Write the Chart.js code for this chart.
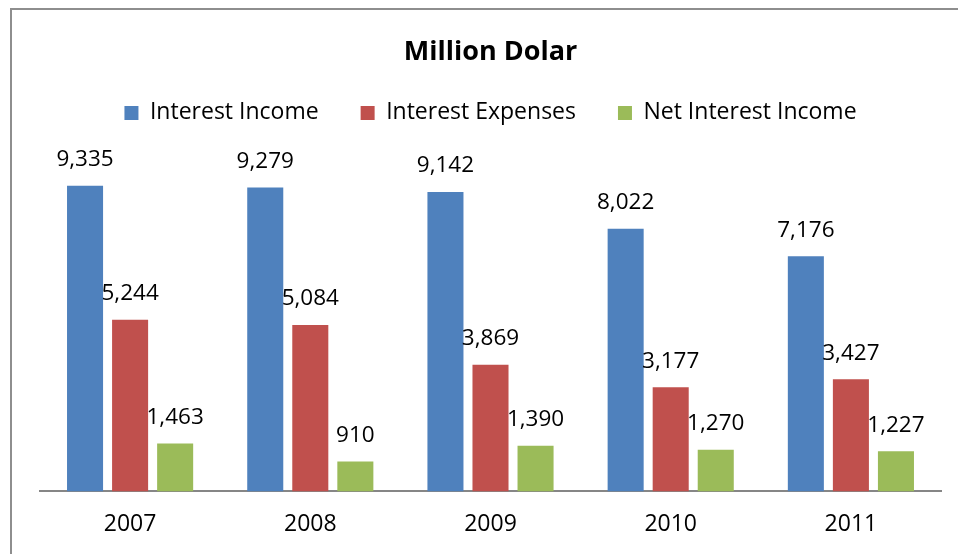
<!DOCTYPE html>
<html><head><meta charset="utf-8">
<script src="https://cdn.jsdelivr.net/npm/chart.js@4/dist/chart.umd.min.js"></script>
<style>
html,body{margin:0;padding:0;background:#fff;overflow:hidden;}
#wrap{position:absolute;left:0;top:0;width:958px;height:554px;}
#frame{position:absolute;left:10px;top:8px;width:1000px;height:600px;border:2px solid #8e8e8e;box-sizing:border-box;}
canvas{position:absolute;left:0;top:0;}
</style></head>
<body>
<div id="wrap"><div id="frame"></div><canvas id="c" width="958" height="554"></canvas></div>
<script>
const categories = ['2007','2008','2009','2010','2011'];
const interestIncome = [9335, 9279, 9142, 8022, 7176];
const interestExpenses = [5244, 5084, 3869, 3177, 3427];
const netInterestIncome = [1463, 910, 1390, 1270, 1227];
const titleText = 'Million Dolar';
const FONT = "'Open Sans', sans-serif";

const labelPlugin = {
  id: 'barLabels',
  afterDatasetsDraw(chart) {
    const ctx = chart.ctx;
    ctx.save();
    ctx.font = "22.5px " + FONT;
    ctx.fillStyle = '#000';
    ctx.textAlign = 'center';
    ctx.textBaseline = 'middle';
    chart.data.datasets.forEach((ds, i) => {
      const meta = chart.getDatasetMeta(i);
      meta.data.forEach((el, j) => {
        ctx.fillText(ds.data[j].toLocaleString('en-US'), el.x, el.y - 26);
      });
    });
    ctx.restore();
  }
};

new Chart(document.getElementById('c'), {
  type: 'bar',
  data: {
    labels: categories,
    datasets: [
      {label: 'Interest Income', data: interestIncome, backgroundColor: '#4F81BD'},
      {label: 'Interest Expenses', data: interestExpenses, backgroundColor: '#C0504D'},
      {label: 'Net Interest Income', data: netInterestIncome, backgroundColor: '#9BBB59'}
    ]
  },
  options: {
    responsive: false,
    animation: false,
    devicePixelRatio: 1,
    categoryPercentage: 0.75,
    barPercentage: 0.8,
    layout: {padding: {left: 40, right: 17, top: 0, bottom: -3}},
    plugins: {
      title: {display: true, text: titleText, color: '#000', font: {family: FONT, size: 27, weight: 'bold'}, padding: {top: 36, bottom: -9}},
      legend: {display: true, labels: {color: '#000', font: {family: FONT, size: 23}, boxWidth: 14, boxHeight: 14, padding: 42}},
      tooltip: {enabled: false}
    },
    scales: {
      x: {
        grid: {display: false, drawTicks: false},
        border: {display: true, color: '#868686', width: 2},
        ticks: {color: '#000', font: {family: FONT, size: 23}, padding: 19}
      },
      y: {display: false, min: 0, max: 10900}
    }
  },
  plugins: [labelPlugin]
});
</script>
</body></html>
